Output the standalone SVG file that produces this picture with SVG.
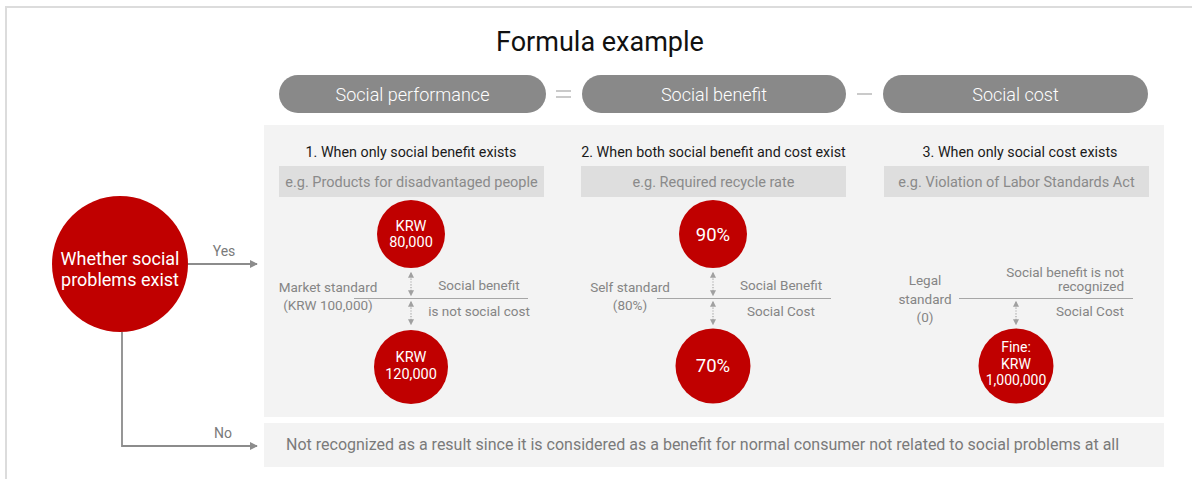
<svg xmlns="http://www.w3.org/2000/svg" width="1192" height="479" viewBox="0 0 1192 479">
  <defs>
    <style>
      text { font-family: Roboto, "Liberation Sans", Arial, sans-serif; }
      .title { font-size: 27px; fill: #111; }
      .pill { fill: #898989; }
      .pill-t { font-size: 18px; fill: #fff; font-weight: 300; text-anchor: middle; }
      .op { stroke: #bdbdbd; stroke-width: 1.6; }
      .panel { fill: #f3f3f3; }
      .eg { fill: #dedede; }
      .eg-t { font-size: 14.5px; fill: #8a8a8a; text-anchor: middle; }
      .head { font-size: 14.3px; fill: #1a1a1a; text-anchor: middle; }
      .dot { fill: #c00000; }
      .dot-t { font-size: 14.5px; fill: #fff; text-anchor: middle; }
      .dot-t.big { font-size: 18.5px; }
      .dot-t.small { font-size: 14px; }
      .lab { font-size: 13.5px; fill: #858585; }
      .mid { text-anchor: middle; }
      .end { text-anchor: end; }
      .base { stroke: #a6a6a6; stroke-width: 1.2; fill: none; }
      .gap { stroke: #a6a6a6; stroke-width: 1.2; stroke-dasharray: 1.2 1.6; fill: none; marker-start: url(#tipS); marker-end: url(#tipE); }
      .flow { stroke: #8c8c8c; stroke-width: 1.8; fill: none; marker-end: url(#arrow); }
      .flow-t { font-size: 14px; fill: #7a7a7a; text-anchor: middle; }
    </style>
    <marker id="arrow" viewBox="0 0 10 10" refX="9" refY="5" markerWidth="4.5" markerHeight="4.5" orient="auto" markerUnits="strokeWidth">
      <path d="M0,0 L10,5 L0,10 z" fill="#8c8c8c"/>
    </marker>
    <marker id="tipE" viewBox="0 0 10 10" refX="8" refY="5" markerWidth="5" markerHeight="5" orient="auto" markerUnits="strokeWidth">
      <path d="M0,0 L10,5 L0,10 z" fill="#a0a0a0"/>
    </marker>
    <marker id="tipS" viewBox="0 0 10 10" refX="2" refY="5" markerWidth="5" markerHeight="5" orient="auto" markerUnits="strokeWidth">
      <path d="M10,0 L0,5 L10,10 z" fill="#a0a0a0"/>
    </marker>
  </defs>

  <rect width="1192" height="479" fill="#fff"/>
  <!-- frame (top and left edges only) -->
  <path d="M6,479 V7 H1192" fill="none" stroke="#dcdcdc" stroke-width="2"/>

  <text class="title" x="600" y="51" text-anchor="middle">Formula example</text>

  <!-- formula pills -->
  <g id="formula">
    <rect class="pill" x="279" y="75" width="267" height="38" rx="19"/>
    <text class="pill-t" x="412.5" y="101">Social performance</text>
    <line class="op" x1="556" y1="91" x2="571" y2="91"/>
    <line class="op" x1="556" y1="97" x2="571" y2="97"/>
    <rect class="pill" x="582" y="75" width="264" height="38" rx="19"/>
    <text class="pill-t" x="714" y="101">Social benefit</text>
    <line class="op" x1="857" y1="94" x2="872" y2="94"/>
    <rect class="pill" x="883" y="75" width="265" height="38" rx="19"/>
    <text class="pill-t" x="1015.5" y="101">Social cost</text>
  </g>

  <!-- case panel -->
  <rect class="panel" x="264" y="125" width="900" height="292"/>
  <!-- no-problem bar -->
  <g id="no-bar">
    <rect class="panel" x="264" y="423" width="900" height="44"/>
    <text x="286" y="450" font-size="16" fill="#7a7a7a">Not recognized as a result since it is considered as a benefit for normal consumer not related to social problems at all</text>
  </g>

  <!-- decision node -->
  <g id="decision">
    <circle class="dot" cx="120" cy="264" r="68"/>
    <text x="120" y="265" font-size="18" fill="#fff" text-anchor="middle">Whether social</text>
    <text x="120" y="286" font-size="18" fill="#fff" text-anchor="middle">problems exist</text>
  </g>

  <g id="connectors">
    <path class="flow" d="M188,264 H257"/>
    <text class="flow-t" x="224" y="256">Yes</text>
    <path class="flow" d="M122,332 V446 H257"/>
    <text class="flow-t" x="223" y="438">No</text>
  </g>

  <!-- case 1 -->
  <g id="case1">
    <text class="head" x="411" y="157">1. When only social benefit exists</text>
    <rect class="eg" x="279" y="166" width="265" height="31"/>
    <text class="eg-t" x="411.5" y="187">e.g. Products for disadvantaged people</text>
    <circle class="dot" cx="411" cy="234" r="34"/>
    <text class="dot-t" x="411" y="230.5">KRW</text>
    <text class="dot-t" x="411" y="247">80,000</text>
    <line class="base" x1="354" y1="298.5" x2="528" y2="298.5"/>
    <line class="gap" x1="411" y1="273" x2="411" y2="295"/>
    <line class="gap" x1="411" y1="302" x2="411" y2="324"/>
    <circle class="dot" cx="411" cy="367" r="37"/>
    <text class="dot-t" x="411" y="362">KRW</text>
    <text class="dot-t" x="411" y="378.5">120,000</text>
    <text class="lab mid" x="328" y="292">Market standard</text>
    <text class="lab mid" x="328" y="310">(KRW 100,000)</text>
    <text class="lab mid" x="479" y="290">Social benefit</text>
    <text class="lab mid" x="479" y="316">is not social cost</text>
  </g>

  <!-- case 2 -->
  <g id="case2">
    <text class="head" x="713.5" y="157">2. When both social benefit and cost exist</text>
    <rect class="eg" x="581" y="166" width="265" height="31"/>
    <text class="eg-t" x="713.5" y="187">e.g. Required recycle rate</text>
    <circle class="dot" cx="713" cy="234" r="34"/>
    <text class="dot-t big" x="713" y="241">90%</text>
    <line class="base" x1="657" y1="298.5" x2="831" y2="298.5"/>
    <line class="gap" x1="713" y1="273" x2="713" y2="295"/>
    <line class="gap" x1="713" y1="302" x2="713" y2="324"/>
    <circle class="dot" cx="713" cy="366" r="37.5"/>
    <text class="dot-t big" x="713" y="372">70%</text>
    <text class="lab mid" x="630" y="292">Self standard</text>
    <text class="lab mid" x="630" y="310">(80%)</text>
    <text class="lab mid" x="781" y="290">Social Benefit</text>
    <text class="lab mid" x="781" y="316">Social Cost</text>
  </g>

  <!-- case 3 -->
  <g id="case3">
    <text class="head" x="1020" y="157">3. When only social cost exists</text>
    <rect class="eg" x="884" y="166" width="265" height="31"/>
    <text class="eg-t" x="1016.5" y="187">e.g. Violation of Labor Standards Act</text>
    <line class="base" x1="959" y1="298.5" x2="1133" y2="298.5"/>
    <line class="gap" x1="1016" y1="302" x2="1016" y2="324"/>
    <circle class="dot" cx="1016" cy="366" r="37.5"/>
    <text class="dot-t small" x="1016" y="352">Fine:</text>
    <text class="dot-t small" x="1016" y="368.5">KRW</text>
    <text class="dot-t small" x="1016" y="385">1,000,000</text>
    <text class="lab mid" x="925" y="285">Legal</text>
    <text class="lab mid" x="925" y="304">standard</text>
    <text class="lab mid" x="925" y="322">(0)</text>
    <text class="lab end" x="1124" y="277">Social benefit is not</text>
    <text class="lab end" x="1124" y="291">recognized</text>
    <text class="lab end" x="1124" y="316">Social Cost</text>
  </g>
</svg>
